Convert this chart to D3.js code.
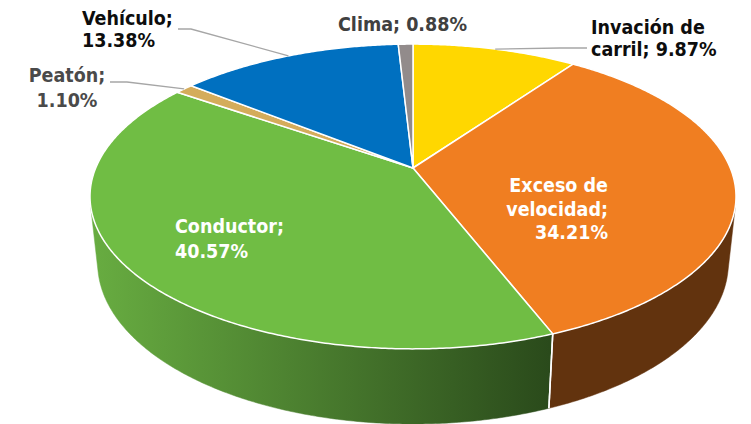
<!DOCTYPE html>
<html><head><meta charset="utf-8">
<script src="https://cdn.jsdelivr.net/npm/d3@7"></script>
<style>body{margin:0;background:#fff}svg{display:block}</style>
</head><body>
<svg id="c" width="751" height="424"></svg>
<script>
// ---- data ----
const categories = ["Invación de carril", "Exceso de velocidad", "Conductor", "Peatón", "Vehículo", "Clima"];
const values = [9.87, 34.21, 40.57, 1.10, 13.38, 0.88];
const topColors = ["#FFD700", "#F07E21", "#70BD44", "#D4AC5B", "#0070C0", "#928B8B"];
const wallColors = ["#6B5C00", "#62330E", "url(#gw)", "#5E4A22", "#00304F", "#3F3B3B"];
// words per line for each label
const labelBreaks = [[2, 4], [2, 3, 4], [1, 2], [1, 2], [1, 2], [2]];

// ---- layout ----
const labelLayout = [
  {x: 591, y: 34, anchor: "start", dy: 22, fill: "#0D0D0D", leader: [[587, 48], [560, 48]]},
  {x: 608, y: 192, anchor: "end", dy: 23.5, fill: "#FFFFFF"},
  {x: 175, y: 233, anchor: "start", dy: 24.5, fill: "#FFFFFF"},
  {x: 67, y: 82, anchor: "middle", dy: 25, fill: "#4A4A4A", leader: [[110, 82], [127, 82]]},
  {x: 82, y: 25, anchor: "start", dy: 22, fill: "#0D0D0D", leader: [[178, 29], [191, 29]]},
  {x: 338, y: 31, anchor: "start", dy: 22, fill: "#404040"}
];

// perspective projection of a horizontal disc
const F = 1504, S = 0.4635, C = 0.886, Z0 = 4.74, T = 0.2385, CX = 413, CY = 168;
function proj(theta, t) {
  const u = Math.sin(theta), v = -Math.cos(theta);
  const y = v * S + t * C, z = Z0 - v * C + t * S;
  return [CX + F * u / z, CY + F * y / z];
}
function facing(theta) {
  const d = 1e-3;
  const p0 = proj(theta, 0), p1 = proj(theta + d, 0), q = proj(theta, T);
  const ax = p1[0] - p0[0], ay = p1[1] - p0[1], bx = q[0] - p0[0], by = q[1] - p0[1];
  return ax * by - ay * bx < 0;
}
function arcPts(a0, a1, t) {
  const n = Math.max(2, Math.ceil(Math.abs(a1 - a0) / (Math.PI / 360)));
  return d3.range(n + 1).map(i => proj(a0 + (a1 - a0) * i / n, t));
}

const svg = d3.select("#c");
const defs = svg.append("defs");
const g = defs.append("linearGradient").attr("id", "gw")
  .attr("gradientUnits", "userSpaceOnUse").attr("x1", 90).attr("y1", 0).attr("x2", 550).attr("y2", 0);
g.append("stop").attr("offset", 0).attr("stop-color", "#68AD41");
g.append("stop").attr("offset", 1).attr("stop-color", "#2A4A1B");

const pie = d3.pie().sort(null).startAngle(0).endAngle(2 * Math.PI);
const arcs = pie(values);

// front-facing range
let fStart = null, fEnd = null;
for (let a = 0; a <= 2 * Math.PI; a += 0.0005) {
  if (facing(a)) { if (fStart === null) fStart = a; fEnd = a; }
}

const line = d3.line();
// walls
const wallG = svg.append("g");
arcs.forEach((d, i) => {
  const a0 = Math.max(d.startAngle, fStart), a1 = Math.min(d.endAngle, fEnd);
  if (a1 <= a0) return;
  const pts = arcPts(a0, a1, 0).concat(arcPts(a1, a0, T));
  wallG.append("path").attr("d", line(pts) + "Z")
    .attr("fill", wallColors[i]).attr("stroke", wallColors[i]).attr("stroke-width", 0.5);
});
// wall separators
arcs.forEach(d => {
  [d.startAngle, d.endAngle].forEach(a => {
    if (a > fStart && a < fEnd) {
      wallG.append("path").attr("d", line([proj(a, 0), proj(a, T)]))
        .attr("stroke", "#fff").attr("stroke-width", 1.5).attr("fill", "none");
    }
  });
});
// top faces
const topG = svg.append("g");
arcs.forEach((d, i) => {
  const pts = [[CX, CY]].concat(arcPts(d.startAngle, d.endAngle, 0));
  topG.append("path").attr("d", line(pts) + "Z")
    .attr("fill", topColors[i]).attr("stroke", "#fff").attr("stroke-width", 1.5)
    .attr("stroke-linejoin", "round");
});

// leaders
arcs.forEach((d, i) => {
  const L = labelLayout[i];
  if (!L.leader) return;
  const mid = (d.startAngle + d.endAngle) / 2;
  const pts = L.leader.concat([proj(mid, 0)]);
  svg.append("path").attr("d", line(pts)).attr("fill", "none")
    .attr("stroke", "#A6A6A6").attr("stroke-width", 1.3);
});

// labels
arcs.forEach((d, i) => {
  const L = labelLayout[i];
  const words = (categories[i] + "; " + values[i].toFixed(2) + "%").split(" ");
  let prev = 0;
  const lines = labelBreaks[i].map(b => { const s = words.slice(prev, b).join(" "); prev = b; return s; });
  lines.forEach((s, k) => {
    svg.append("text").attr("x", L.x).attr("y", L.y + k * L.dy)
      .attr("text-anchor", L.anchor).attr("fill", L.fill)
      .attr("font-family", "'DejaVu Sans Condensed', 'DejaVu Sans', sans-serif")
      .attr("font-stretch", "condensed")
      .attr("font-size", 19.5).attr("font-weight", 700).text(s);
  });
});
</script>
</body></html>
